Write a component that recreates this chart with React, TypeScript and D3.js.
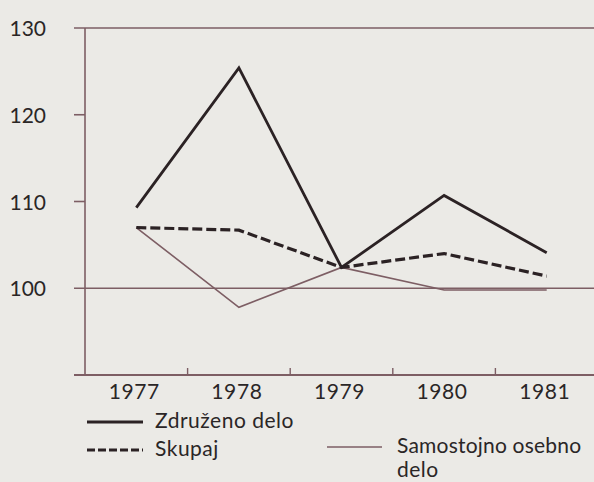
import React from "react";
import * as d3 from "d3";

const years = ["1977", "1978", "1979", "1980", "1981"];
const zdruzenoDelo = [109.3, 125.4, 102.4, 110.7, 104.1];
const skupaj = [107.0, 106.7, 102.4, 104.0, 101.4];
const samostojno = [107.0, 97.8, 102.4, 99.8, 99.8];
const yTicks = [100, 110, 120, 130];

const W = 594;
const H = 482;
const font = "Lato, 'Noto Sans', sans-serif";
const bg = "#ebeae6";
const axisColor = "#7d5e64";
const ink = "#2b2224";
const textColor = "#2a2626";

const App = () => {
  const x = d3.scaleBand().domain(years).range([85, 598]).padding(0);
  const y = d3.scaleLinear().domain([90, 130]).range([375, 28]);
  const cx = (d: string) => (x(d) as number) + x.bandwidth() / 2;
  const line = d3
    .line<number>()
    .x((_, i) => cx(years[i]))
    .y((v) => y(v));

  return (
    <div style={{ position: "fixed", left: 0, top: 0 }}>
      <svg width={W} height={H} style={{ display: "block", fontFamily: font }}>
        <rect width={W} height={H} fill={bg} />

        {/* y axis */}
        <line x1={85} x2={85} y1={y(130)} y2={y(90)} stroke={axisColor} strokeWidth={1.6} />
        {yTicks.map((t) => (
          <g key={t}>
            <line
              x1={74}
              x2={t === 100 || t === 130 ? W : 85}
              y1={y(t)}
              y2={y(t)}
              stroke={axisColor}
              strokeWidth={1.6}
            />
            <text x={46} y={y(t) + 8} textAnchor="end" fontSize={21} fill={textColor}>
              {t}
            </text>
          </g>
        ))}

        {/* x axis */}
        <line x1={74} x2={W} y1={y(90)} y2={y(90)} stroke={axisColor} strokeWidth={1.8} />
        {years.slice(1).map((yr) => (
          <line
            key={yr}
            x1={x(yr) as number}
            x2={x(yr) as number}
            y1={y(90)}
            y2={y(90) - 7}
            stroke={axisColor}
            strokeWidth={1.4}
          />
        ))}
        {years.map((yr) => (
          <text
            key={yr}
            x={cx(yr) - 2}
            y={399}
            textAnchor="middle"
            fontSize={21}
            letterSpacing={0.6}
            fill={textColor}
          >
            {yr}
          </text>
        ))}

        {/* series */}
        <path d={line(samostojno) ?? ""} fill="none" stroke={axisColor} strokeWidth={1.6} />
        <path d={line(skupaj) ?? ""} fill="none" stroke={ink} strokeWidth={3.2} strokeDasharray="10 4" />
        <path d={line(zdruzenoDelo) ?? ""} fill="none" stroke={ink} strokeWidth={2.8} />

        {/* legend */}
        <g fontSize={21} letterSpacing={0.5} fill={textColor}>
          <line x1={87} x2={143} y1={422} y2={422} stroke={ink} strokeWidth={2.8} />
          <text x={155} y={428}>Združeno delo</text>
          <line x1={87} x2={143} y1={450} y2={450} stroke={ink} strokeWidth={3} strokeDasharray="8 3" />
          <text x={155} y={456}>Skupaj</text>
          <line x1={327} x2={382} y1={447} y2={447} stroke={axisColor} strokeWidth={1.6} />
          <text x={397} y={453} letterSpacing={0.2}>Samostojno osebno</text>
          <text x={397} y={477}>delo</text>
        </g>
      </svg>
    </div>
  );
};

export default App;
